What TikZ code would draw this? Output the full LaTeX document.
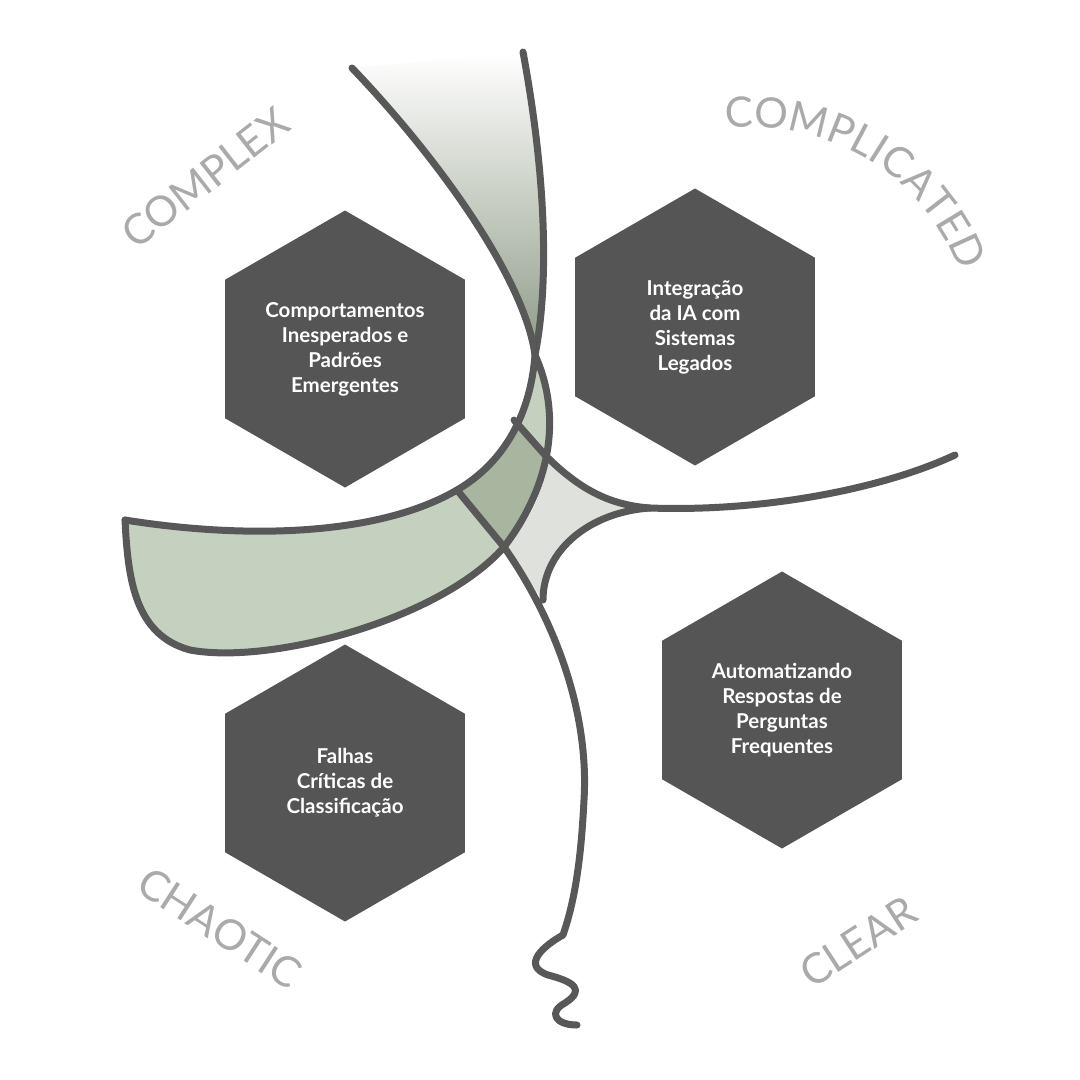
\documentclass[tikz,border=0pt]{standalone}
\usepackage{fontspec}
\setmainfont{Lato}
\usetikzlibrary{shapes.geometric}
\usetikzlibrary{decorations.text}
\definecolor{hexgray}{HTML}{555555}
\definecolor{linegray}{HTML}{585858}
\definecolor{palegreen}{HTML}{C4D1BE}
\definecolor{midgreen}{HTML}{A8B59F}
\definecolor{palegray}{HTML}{DFE1DD}
\definecolor{bandgreen}{HTML}{8E9A86}
\definecolor{labelgray}{HTML}{AAAAAA}

\begin{document}
\begin{tikzpicture}[
  x=1pt, y=-1pt,
  hexbox/.style={regular polygon, regular polygon sides=6, shape border rotate=30,
    minimum size=277pt, inner sep=0pt, fill=hexgray, text=white, align=center,
    font=\fontsize{20.5}{25}\selectfont\bfseries},
  curve/.style={draw=linegray, line width=7pt, line cap=round, line join=round},
  quadlabel/.style={text=labelgray, font=\fontsize{42}{42}\selectfont}
]
\useasboundingbox (0,0) rectangle (1080,1080);

% Key points
\coordinate (topA) at (352,68);
\coordinate (topB) at (523,52);
\coordinate (cross) at (535,355);
\coordinate (tip) at (125,520);
\coordinate (splitA) at (514,420);
\coordinate (splitB) at (545,455);
\coordinate (bandA) at (457,490);
\coordinate (bandB) at (504,547);
\coordinate (cusp) at (650,508);
\coordinate (lowD) at (543,600);
\coordinate (rightend) at (955,455);
\coordinate (kink) at (563,935);

% Regions
\shade[top color=white, bottom color=bandgreen]
  (topA) .. controls (440,160) and (525,280) .. (cross)
  .. controls (550,280) and (545,170) .. (topB) -- cycle;
\fill[palegreen]
  (cross) .. controls (530,420) and (500,465) .. (bandA)
  .. controls (380,535) and (250,540) .. (tip)
  .. controls (128,580) and (135,635) .. (190,650)
  .. controls (270,665) and (440,620) .. (bandB)
  .. controls (555,480) and (560,410) .. (cross) -- cycle;
\begin{scope}
  \clip (cross) .. controls (530,420) and (500,465) .. (bandA)
    -- (bandB) .. controls (555,480) and (560,410) .. (cross) -- cycle;
  \fill[midgreen] (505,410) -- (555,466) -- (515,560) -- (445,475) -- cycle;
\end{scope}
\fill[palegray] (splitB) .. controls (545,500) and (525,525) .. (bandB) -- (lowD)
  .. controls (543,550) and (590,512) .. (cusp)
  .. controls (610,505) and (580,490) .. (splitB) -- cycle;

% Curves
\draw[curve] (topA) .. controls (440,160) and (525,280) .. (cross)
  .. controls (530,420) and (500,465) .. (bandA)
  .. controls (380,535) and (250,540) .. (tip);
\draw[curve] (topB) .. controls (545,170) and (550,280) .. (cross)
  .. controls (560,410) and (555,480) .. (bandB)
  .. controls (440,620) and (270,665) .. (190,650)
  .. controls (135,635) and (128,580) .. (tip);
\draw[curve] (splitA) -- (splitB) .. controls (580,490) and (610,505) .. (cusp)
  .. controls (760,512) and (880,490) .. (rightend);
\draw[curve] (cusp) .. controls (590,512) and (543,550) .. (lowD);
\draw[curve] (bandA) -- (bandB) .. controls (545,605) and (590,700) .. (584,800)
  .. controls (581,860) and (575,900) .. (kink)
  .. controls (545,945) and (520,965) .. (548,975)
  .. controls (575,982) and (585,990) .. (565,1003)
  .. controls (548,1012) and (555,1025) .. (577,1025);

% Hexagons
\node[hexbox] (complexhex) at (345,349) {Comportamentos\\Inesperados e\\Padrões\\Emergentes};
\node[hexbox] (complicatedhex) at (695,327) {Integração\\da IA com\\Sistemas\\Legados};
\node[hexbox] (clearhex) at (782,710) {Automatizando\\Respostas de\\Perguntas\\Frequentes};
\node[hexbox] (chaotichex) at (345,783) {Falhas\\Críticas de\\Classificação};

% Domain labels
\node[quadlabel, rotate=38] (complexlabel) at (205,178) {COMPLEX};
\path[decorate, decoration={text along path, text align=center,
    text={|\color{labelgray}\fontsize{42}{42}\selectfont|COMPLICATED}}]
  (725,128) .. controls (840,120) and (925,180) .. (960,272);
\node[quadlabel, rotate=-33] (chaoticlabel) at (220,928) {CHAOTIC};
\node[quadlabel, rotate=33] (clearlabel) at (858,942) {CLEAR};

\end{tikzpicture}
\end{document}
